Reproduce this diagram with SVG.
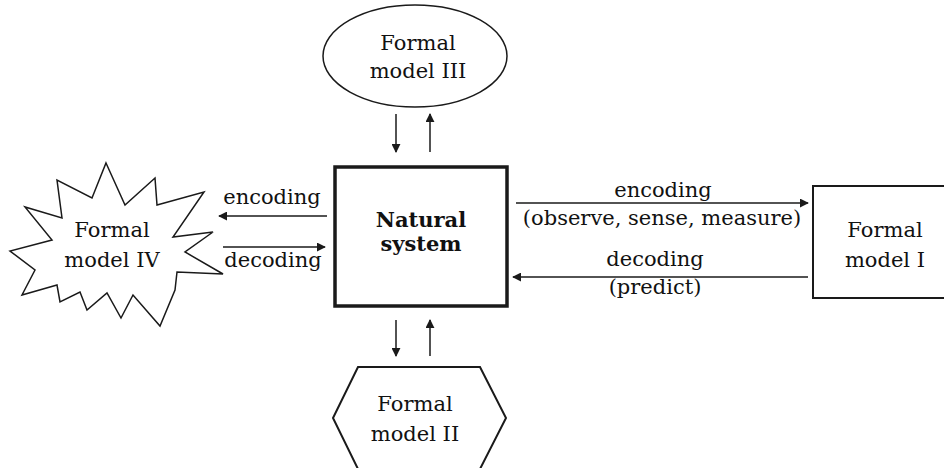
<svg xmlns="http://www.w3.org/2000/svg" width="944" height="468" viewBox="0 0 944 468">
<style>
text{font-family:"DejaVu Serif","Liberation Serif",serif;font-size:21px;fill:#111;text-anchor:middle}
.b{font-weight:bold}
.shape{fill:#fff;stroke:#1a1a1a}
.conn line{stroke:#1a1a1a;stroke-width:1.5}
</style>
<defs>
<marker id="ah" viewBox="0 0 10 10" refX="9" refY="5" markerWidth="9" markerHeight="9" markerUnits="userSpaceOnUse" orient="auto">
<path d="M0,0 L10,5 L0,10 Z" fill="#1a1a1a"/>
</marker>
</defs>
<rect width="944" height="468" fill="#fff"/>
<g id="natural-system">
<rect class="shape" x="335" y="167" width="172" height="139" stroke-width="3.5"/>
<text class="b" x="421" y="227">Natural</text>
<text class="b" x="421" y="251">system</text>
</g>
<g id="formal-model-III">
<ellipse class="shape" cx="415" cy="56" rx="92" ry="51" stroke-width="1.5"/>
<text x="418" y="50">Formal</text>
<text x="418" y="78">model III</text>
</g>
<g id="formal-model-II">
<polygon class="shape" points="358,367 480,367 506,418 480,469 358,469 333,418" stroke-width="2"/>
<text x="415" y="411">Formal</text>
<text x="415" y="441">model II</text>
</g>
<g id="formal-model-I">
<rect class="shape" x="813" y="186" width="140" height="112" stroke-width="2"/>
<text x="885" y="237">Formal</text>
<text x="885" y="267">model I</text>
</g>
<g id="formal-model-IV">
<polygon class="shape" stroke-width="1.5" points="106,163 125,205 155,178 157,205 204,192 173,237 213,232 185,252 223,274 177,272 175,290 160,326 133,295 121,318 107,293 87,310 80,292 60,302 57,285 22,295 35,270 10,251 52,240 25,207 62,218 57,180 92,198"/>
<text x="112" y="237">Formal</text>
<text x="112" y="267">model IV</text>
</g>
<g id="connectors" class="conn">
<line x1="396" y1="114" x2="396" y2="152" marker-end="url(#ah)"/>
<line x1="430" y1="152" x2="430" y2="114" marker-end="url(#ah)"/>
<line x1="396" y1="320" x2="396" y2="356" marker-end="url(#ah)"/>
<line x1="430" y1="356" x2="430" y2="320" marker-end="url(#ah)"/>
<line x1="516" y1="203" x2="808" y2="203" marker-end="url(#ah)"/>
<line x1="808" y1="277" x2="513" y2="277" marker-end="url(#ah)"/>
<line x1="327" y1="216" x2="219" y2="216" marker-end="url(#ah)"/>
<line x1="223" y1="247" x2="325" y2="247" marker-end="url(#ah)"/>
</g>
<g id="labels">
<text x="663" y="197">encoding</text>
<text x="662" y="225">(observe, sense, measure)</text>
<text x="655" y="266">decoding</text>
<text x="655" y="294">(predict)</text>
<text x="272" y="204">encoding</text>
<text x="273" y="267">decoding</text>
</g>
</svg>
